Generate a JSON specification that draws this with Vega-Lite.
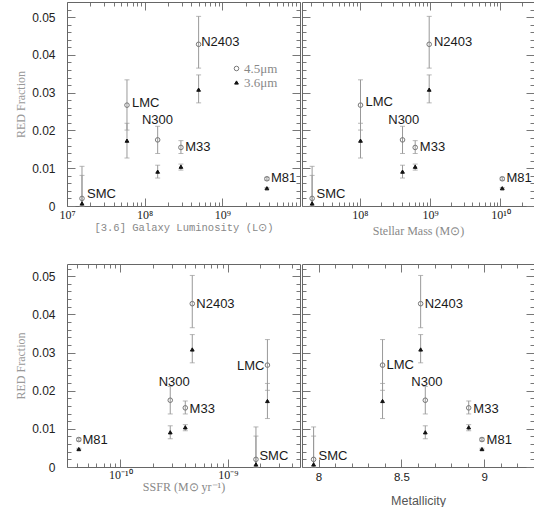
{
  "$schema": "https://vega.github.io/schema/vega-lite/v6.json",
  "padding": {"left": 14, "top": 1, "right": 0, "bottom": 0},
  "background": "white",
  "datasets": {
    "pts": [
      {"galaxy": "SMC", "band": "4.5μm", "lum": 1.56e7, "mass": 2.09e7, "ssfr": 1.83e-9, "met": 7.97, "y": 0.0020, "lo": 0, "hi": 0.0105},
      {"galaxy": "SMC", "band": "3.6μm", "lum": 1.56e7, "mass": 2.09e7, "ssfr": 1.83e-9, "met": 7.97, "y": 0.0007, "lo": 0, "hi": 0.0081},
      {"galaxy": "LMC", "band": "4.5μm", "lum": 5.92e7, "mass": 1.02e8, "ssfr": 2.34e-9, "met": 8.386, "y": 0.0267, "lo": 0.0201, "hi": 0.0334},
      {"galaxy": "LMC", "band": "3.6μm", "lum": 5.92e7, "mass": 1.02e8, "ssfr": 2.34e-9, "met": 8.386, "y": 0.0173, "lo": 0.0127, "hi": 0.0219},
      {"galaxy": "N300", "band": "4.5μm", "lum": 1.47e8, "mass": 4.04e8, "ssfr": 2.92e-10, "met": 8.644, "y": 0.0175, "lo": 0.0139, "hi": 0.0211},
      {"galaxy": "N300", "band": "3.6μm", "lum": 1.47e8, "mass": 4.04e8, "ssfr": 2.92e-10, "met": 8.644, "y": 0.0091, "lo": 0.0074, "hi": 0.0108},
      {"galaxy": "M33", "band": "4.5μm", "lum": 2.93e8, "mass": 6.12e8, "ssfr": 4.03e-10, "met": 8.906, "y": 0.0155, "lo": 0.0139, "hi": 0.0173},
      {"galaxy": "M33", "band": "3.6μm", "lum": 2.93e8, "mass": 6.12e8, "ssfr": 4.03e-10, "met": 8.906, "y": 0.0104, "lo": 0.0095, "hi": 0.0111},
      {"galaxy": "N2403", "band": "4.5μm", "lum": 4.95e8, "mass": 9.68e8, "ssfr": 4.68e-10, "met": 8.616, "y": 0.0428, "lo": 0.0365, "hi": 0.0502},
      {"galaxy": "N2403", "band": "3.6μm", "lum": 4.95e8, "mass": 9.68e8, "ssfr": 4.68e-10, "met": 8.616, "y": 0.0308, "lo": 0.0273, "hi": 0.0347},
      {"galaxy": "M81", "band": "4.5μm", "lum": 3.75e9, "mass": 1.06e10, "ssfr": 4.12e-11, "met": 8.986, "y": 0.0072, "lo": 0.0068, "hi": 0.0076},
      {"galaxy": "M81", "band": "3.6μm", "lum": 3.75e9, "mass": 1.06e10, "ssfr": 4.12e-11, "met": 8.986, "y": 0.0047, "lo": 0.0045, "hi": 0.0049}
    ],
    "labels": [
      {"galaxy": "SMC", "lum_lx": 1.81e7, "lum_ly": 0.0033, "mass_lx": 2.42e7, "mass_ly": 0.0033, "ssfr_lx": 1.97e-9, "ssfr_ly": 0.0029, "met_lx": 8.0, "met_ly": 0.0028},
      {"galaxy": "LMC", "lum_lx": 6.87e7, "lum_ly": 0.0272, "mass_lx": 1.2e8, "mass_ly": 0.0274, "ssfr_lx": 1.22e-9, "ssfr_ly": 0.0265, "met_lx": 8.41, "met_ly": 0.0267},
      {"galaxy": "N300", "lum_lx": 9.23e7, "lum_ly": 0.0228, "mass_lx": 2.53e8, "mass_ly": 0.0228, "ssfr_lx": 2.28e-10, "ssfr_ly": 0.0223, "met_lx": 8.56, "met_ly": 0.0223},
      {"galaxy": "M33", "lum_lx": 3.33e8, "lum_ly": 0.0157, "mass_lx": 7.13e8, "mass_ly": 0.0157, "ssfr_lx": 4.42e-10, "ssfr_ly": 0.0151, "met_lx": 8.934, "met_ly": 0.0152},
      {"galaxy": "N2403", "lum_lx": 5.35e8, "lum_ly": 0.0434, "mass_lx": 1.13e9, "mass_ly": 0.0434, "ssfr_lx": 5.1e-10, "ssfr_ly": 0.0428, "met_lx": 8.64, "met_ly": 0.0428},
      {"galaxy": "M81", "lum_lx": 4.22e9, "lum_ly": 0.0074, "mass_lx": 1.22e10, "mass_ly": 0.0073, "ssfr_lx": 4.46e-11, "ssfr_ly": 0.0071, "met_lx": 9.014, "met_ly": 0.0071}
    ]
  },
  "columns": 2,
  "spacing": {"row": 27, "column": 0},
  "concat": [
    {
      "width": 233, "height": 204,
      "layer": [
        {"data": {"name": "pts"}, "mark": {"type": "rule", "color": "#999", "strokeWidth": 1},
          "encoding": {
            "x": {"field": "lum", "type": "quantitative", "scale": {"type": "log", "domain": [1e7, 1e10], "nice": false},
              "axis": {"orient": "bottom", "values": [2e7,3e7,4e7,5e7,6e7,7e7,8e7,9e7,2e8,3e8,4e8,5e8,6e8,7e8,8e8,9e8,2e9,3e9,4e9,5e9,6e9,7e9,8e9,9e9], "tickSize": -4, "labels": false, "domain": false, "title": null}},
            "y": {"field": "lo", "type": "quantitative", "scale": {"domain": [0, 0.054], "nice": false, "zero": false},
              "axis": {"orient": "left", "values": [0.002,0.004,0.006,0.008,0.012,0.014,0.016,0.018,0.022,0.024,0.026,0.028,0.032,0.034,0.036,0.038,0.042,0.044,0.046,0.048,0.052], "tickSize": -4, "labels": false, "domain": false, "title": null}},
            "y2": {"field": "hi"}}},
        {"data": {"name": "pts"}, "mark": {"type": "tick", "orient": "horizontal", "size": 5, "thickness": 1, "color": "#999"},
          "encoding": {
            "x": {"field": "lum", "type": "quantitative", "scale": {"type": "log", "domain": [1e7, 1e10], "nice": false},
              "axis": {"orient": "top", "values": [2e7,3e7,4e7,5e7,6e7,7e7,8e7,9e7,2e8,3e8,4e8,5e8,6e8,7e8,8e8,9e8,2e9,3e9,4e9,5e9,6e9,7e9,8e9,9e9], "tickSize": -4, "labels": false, "domain": false, "title": null}},
            "y": {"field": "hi", "type": "quantitative", "scale": {"domain": [0, 0.054], "nice": false, "zero": false},
              "axis": {"orient": "right", "values": [0.002,0.004,0.006,0.008,0.012,0.014,0.016,0.018,0.022,0.024,0.026,0.028,0.032,0.034,0.036,0.038,0.042,0.044,0.046,0.048,0.052], "tickSize": -4, "labels": false, "domain": false, "title": null}}}},
        {"data": {"name": "pts"}, "mark": {"type": "tick", "orient": "horizontal", "size": 5, "thickness": 1, "color": "#999"},
          "encoding": {
            "x": {"field": "lum", "type": "quantitative", "scale": {"type": "log", "domain": [1e7, 1e10], "nice": false}, "axis": null},
            "y": {"field": "lo", "type": "quantitative", "scale": {"domain": [0, 0.054], "nice": false, "zero": false}, "axis": null}}},
        {"data": {"name": "pts"}, "mark": {"type": "point", "filled": true, "strokeWidth": 1, "opacity": 1},
          "encoding": {
            "x": {"field": "lum", "type": "quantitative", "scale": {"type": "log", "domain": [1e7, 1e10], "nice": false},
              "axis": {"orient": "bottom", "values": [1e7,1e8,1e9,1e10], "tickSize": -8,
                "labelExpr": "abs(log(datum.value)/LN10-7)<0.001?'10⁷':abs(log(datum.value)/LN10-8)<0.001?'10⁸':abs(log(datum.value)/LN10-9)<0.001?'10⁹':''",
                "labelPadding": 11, "labelFont": "Liberation Serif", "labelFontSize": 12, "labelOverlap": false, "labelFlush": false, "labelBound": false,
                "title": "[3.6] Galaxy Luminosity (L⊙)", "titleFont": "Liberation Mono", "titleFontSize": 10.5, "titleColor": "#888", "titlePadding": 2}},
            "y": {"field": "y", "type": "quantitative", "scale": {"domain": [0, 0.054], "nice": false, "zero": false},
              "axis": {"orient": "left", "values": [0,0.01,0.02,0.03,0.04,0.05], "tickSize": -8,
                "labelExpr": "datum.value==0?'0':format(datum.value,'.2f')",
                "labelPadding": 20, "labelFont": "Liberation Sans", "labelFontSize": 12, "labelOverlap": false, "labelBound": false, "labelFlush": false,
                "title": "RED Fraction", "titleFont": "Liberation Serif", "titleFontSize": 12, "titleColor": "#999", "titlePadding": 4}},
            "shape": {"field": "band", "type": "nominal", "scale": {"domain": ["4.5μm", "3.6μm"], "range": ["circle", "triangle-up"]},
              "legend": {"orient": "none", "legendX": 163, "legendY": 60, "title": null, "labelFont": "Liberation Serif", "labelFontSize": 13, "labelColor": "#888", "symbolSize": 20, "rowPadding": 0, "labelOffset": 1, "symbolStrokeWidth": 1}},
            "fill": {"field": "band", "type": "nominal", "scale": {"domain": ["4.5μm", "3.6μm"], "range": ["transparent", "#111"]}},
            "stroke": {"field": "band", "type": "nominal", "scale": {"domain": ["4.5μm", "3.6μm"], "range": ["#777", "#111"]}},
            "size": {"field": "band", "type": "nominal", "scale": {"domain": ["4.5μm", "3.6μm"], "range": [21, 14]},
              "legend": {"orient": "none", "legendX": 163, "legendY": 60, "title": null, "labelFont": "Liberation Serif", "labelFontSize": 13, "labelColor": "#888", "symbolSize": 20, "rowPadding": 0, "labelOffset": 1, "symbolStrokeWidth": 1}}}},
        {"data": {"name": "labels"}, "mark": {"type": "text", "align": "left", "baseline": "middle", "font": "Liberation Sans", "fontSize": 13, "color": "#1a1a1a"},
          "encoding": {
            "x": {"field": "lum_lx", "type": "quantitative", "scale": {"type": "log", "domain": [1e7, 1e10], "nice": false},
              "axis": {"orient": "top", "values": [1e7,1e8,1e9,1e10], "tickSize": -8, "labels": false, "title": null}},
            "y": {"field": "lum_ly", "type": "quantitative", "scale": {"domain": [0, 0.054], "nice": false, "zero": false},
              "axis": {"orient": "right", "values": [0,0.01,0.02,0.03,0.04,0.05], "tickSize": -8, "labels": false, "title": null}},
            "text": {"field": "galaxy"}}}
      ],
      "resolve": {"axis": {"x": "independent", "y": "independent"}}
    },
    {
      "width": 232, "height": 204,
      "layer": [
        {"data": {"name": "pts"}, "mark": {"type": "rule", "color": "#999", "strokeWidth": 1},
          "encoding": {
            "x": {"field": "mass", "type": "quantitative", "scale": {"type": "log", "domain": [1.5e7, 3e10], "nice": false},
              "axis": {"orient": "bottom", "values": [2e7,3e7,4e7,5e7,6e7,7e7,8e7,9e7,2e8,3e8,4e8,5e8,6e8,7e8,8e8,9e8,2e9,3e9,4e9,5e9,6e9,7e9,8e9,9e9,2e10,3e10], "tickSize": -4, "labels": false, "domain": false, "title": null}},
            "y": {"field": "lo", "type": "quantitative", "scale": {"domain": [0, 0.054], "nice": false, "zero": false},
              "axis": {"orient": "left", "values": [0.002,0.004,0.006,0.008,0.012,0.014,0.016,0.018,0.022,0.024,0.026,0.028,0.032,0.034,0.036,0.038,0.042,0.044,0.046,0.048,0.052], "tickSize": -4, "labels": false, "domain": false, "title": null}},
            "y2": {"field": "hi"}}},
        {"data": {"name": "pts"}, "mark": {"type": "tick", "orient": "horizontal", "size": 5, "thickness": 1, "color": "#999"},
          "encoding": {
            "x": {"field": "mass", "type": "quantitative", "scale": {"type": "log", "domain": [1.5e7, 3e10], "nice": false},
              "axis": {"orient": "top", "values": [2e7,3e7,4e7,5e7,6e7,7e7,8e7,9e7,2e8,3e8,4e8,5e8,6e8,7e8,8e8,9e8,2e9,3e9,4e9,5e9,6e9,7e9,8e9,9e9,2e10,3e10], "tickSize": -4, "labels": false, "domain": false, "title": null}},
            "y": {"field": "hi", "type": "quantitative", "scale": {"domain": [0, 0.054], "nice": false, "zero": false},
              "axis": {"orient": "right", "values": [0.002,0.004,0.006,0.008,0.012,0.014,0.016,0.018,0.022,0.024,0.026,0.028,0.032,0.034,0.036,0.038,0.042,0.044,0.046,0.048,0.052], "tickSize": -4, "labels": false, "domain": false, "title": null}}}},
        {"data": {"name": "pts"}, "mark": {"type": "tick", "orient": "horizontal", "size": 5, "thickness": 1, "color": "#999"},
          "encoding": {
            "x": {"field": "mass", "type": "quantitative", "scale": {"type": "log", "domain": [1.5e7, 3e10], "nice": false}, "axis": null},
            "y": {"field": "lo", "type": "quantitative", "scale": {"domain": [0, 0.054], "nice": false, "zero": false}, "axis": null}}},
        {"data": {"name": "pts"}, "mark": {"type": "point", "filled": true, "strokeWidth": 1, "opacity": 1},
          "encoding": {
            "x": {"field": "mass", "type": "quantitative", "scale": {"type": "log", "domain": [1.5e7, 3e10], "nice": false},
              "axis": {"orient": "bottom", "values": [1e8,1e9,1e10], "tickSize": -8,
                "labelExpr": "abs(log(datum.value)/LN10-8)<0.001?'10⁸':abs(log(datum.value)/LN10-9)<0.001?'10⁹':abs(log(datum.value)/LN10-10)<0.001?'10¹⁰':''",
                "labelPadding": 11, "labelFont": "Liberation Serif", "labelFontSize": 12, "labelOverlap": false, "labelFlush": false, "labelBound": false,
                "title": "Stellar Mass (M⊙)", "titleFont": "Liberation Serif", "titleFontSize": 12, "titleColor": "#888", "titlePadding": 5}},
            "y": {"field": "y", "type": "quantitative", "scale": {"domain": [0, 0.054], "nice": false, "zero": false},
              "axis": {"orient": "left", "values": [0,0.01,0.02,0.03,0.04,0.05], "tickSize": -8, "labels": false, "title": null}},
            "shape": {"field": "band", "type": "nominal", "scale": {"domain": ["4.5μm", "3.6μm"], "range": ["circle", "triangle-up"]}, "legend": null},
            "fill": {"field": "band", "type": "nominal", "scale": {"domain": ["4.5μm", "3.6μm"], "range": ["transparent", "#111"]}, "legend": null},
            "stroke": {"field": "band", "type": "nominal", "scale": {"domain": ["4.5μm", "3.6μm"], "range": ["#777", "#111"]}, "legend": null},
            "size": {"field": "band", "type": "nominal", "scale": {"domain": ["4.5μm", "3.6μm"], "range": [21, 14]}, "legend": null}}},
        {"data": {"name": "labels"}, "mark": {"type": "text", "align": "left", "baseline": "middle", "font": "Liberation Sans", "fontSize": 13, "color": "#1a1a1a"},
          "encoding": {
            "x": {"field": "mass_lx", "type": "quantitative", "scale": {"type": "log", "domain": [1.5e7, 3e10], "nice": false},
              "axis": {"orient": "top", "values": [1e8,1e9,1e10], "tickSize": -8, "labels": false, "title": null}},
            "y": {"field": "mass_ly", "type": "quantitative", "scale": {"domain": [0, 0.054], "nice": false, "zero": false},
              "axis": {"orient": "right", "values": [0,0.01,0.02,0.03,0.04,0.05], "tickSize": -8, "labels": false, "title": null}},
            "text": {"field": "galaxy"}}}
      ],
      "resolve": {"axis": {"x": "independent", "y": "independent"}}
    },
    {
      "width": 233, "height": 203,
      "layer": [
        {"data": {"name": "pts"}, "mark": {"type": "rule", "color": "#999", "strokeWidth": 1},
          "encoding": {
            "x": {"field": "ssfr", "type": "quantitative", "scale": {"type": "log", "domain": [3.2e-11, 4.7e-9], "nice": false},
              "axis": {"orient": "bottom", "values": [4e-11,5e-11,6e-11,7e-11,8e-11,9e-11,2e-10,3e-10,4e-10,5e-10,6e-10,7e-10,8e-10,9e-10,2e-9,3e-9,4e-9], "tickSize": -4, "labels": false, "domain": false, "title": null}},
            "y": {"field": "lo", "type": "quantitative", "scale": {"domain": [0, 0.0532], "nice": false, "zero": false},
              "axis": {"orient": "left", "values": [0.002,0.004,0.006,0.008,0.012,0.014,0.016,0.018,0.022,0.024,0.026,0.028,0.032,0.034,0.036,0.038,0.042,0.044,0.046,0.048,0.052], "tickSize": -4, "labels": false, "domain": false, "title": null}},
            "y2": {"field": "hi"}}},
        {"data": {"name": "pts"}, "mark": {"type": "tick", "orient": "horizontal", "size": 5, "thickness": 1, "color": "#999"},
          "encoding": {
            "x": {"field": "ssfr", "type": "quantitative", "scale": {"type": "log", "domain": [3.2e-11, 4.7e-9], "nice": false},
              "axis": {"orient": "top", "values": [4e-11,5e-11,6e-11,7e-11,8e-11,9e-11,2e-10,3e-10,4e-10,5e-10,6e-10,7e-10,8e-10,9e-10,2e-9,3e-9,4e-9], "tickSize": -4, "labels": false, "domain": false, "title": null}},
            "y": {"field": "hi", "type": "quantitative", "scale": {"domain": [0, 0.0532], "nice": false, "zero": false},
              "axis": {"orient": "right", "values": [0.002,0.004,0.006,0.008,0.012,0.014,0.016,0.018,0.022,0.024,0.026,0.028,0.032,0.034,0.036,0.038,0.042,0.044,0.046,0.048,0.052], "tickSize": -4, "labels": false, "domain": false, "title": null}}}},
        {"data": {"name": "pts"}, "mark": {"type": "tick", "orient": "horizontal", "size": 5, "thickness": 1, "color": "#999"},
          "encoding": {
            "x": {"field": "ssfr", "type": "quantitative", "scale": {"type": "log", "domain": [3.2e-11, 4.7e-9], "nice": false}, "axis": null},
            "y": {"field": "lo", "type": "quantitative", "scale": {"domain": [0, 0.0532], "nice": false, "zero": false}, "axis": null}}},
        {"data": {"name": "pts"}, "mark": {"type": "point", "filled": true, "strokeWidth": 1, "opacity": 1},
          "encoding": {
            "x": {"field": "ssfr", "type": "quantitative", "scale": {"type": "log", "domain": [3.2e-11, 4.7e-9], "nice": false},
              "axis": {"orient": "bottom", "values": [1e-10,1e-9], "tickSize": -8,
                "labelExpr": "abs(log(datum.value)/LN10+10)<0.001?'10⁻¹⁰':abs(log(datum.value)/LN10+9)<0.001?'10⁻⁹':''",
                "labelPadding": 10, "labelFont": "Liberation Serif", "labelFontSize": 12, "labelOverlap": false, "labelFlush": false, "labelBound": false,
                "title": "SSFR (M⊙ yr⁻¹)", "titleFont": "Liberation Serif", "titleFontSize": 12, "titleColor": "#888", "titlePadding": 1}},
            "y": {"field": "y", "type": "quantitative", "scale": {"domain": [0, 0.0532], "nice": false, "zero": false},
              "axis": {"orient": "left", "values": [0,0.01,0.02,0.03,0.04,0.05], "tickSize": -8,
                "labelExpr": "datum.value==0?'0':format(datum.value,'.2f')",
                "labelPadding": 20, "labelFont": "Liberation Sans", "labelFontSize": 12, "labelOverlap": false, "labelBound": false, "labelFlush": false,
                "title": "RED Fraction", "titleFont": "Liberation Serif", "titleFontSize": 12, "titleColor": "#999", "titlePadding": 4}},
            "shape": {"field": "band", "type": "nominal", "scale": {"domain": ["4.5μm", "3.6μm"], "range": ["circle", "triangle-up"]}, "legend": null},
            "fill": {"field": "band", "type": "nominal", "scale": {"domain": ["4.5μm", "3.6μm"], "range": ["transparent", "#111"]}, "legend": null},
            "stroke": {"field": "band", "type": "nominal", "scale": {"domain": ["4.5μm", "3.6μm"], "range": ["#777", "#111"]}, "legend": null},
            "size": {"field": "band", "type": "nominal", "scale": {"domain": ["4.5μm", "3.6μm"], "range": [21, 14]}, "legend": null}}},
        {"data": {"name": "labels"}, "mark": {"type": "text", "align": "left", "baseline": "middle", "font": "Liberation Sans", "fontSize": 13, "color": "#1a1a1a"},
          "encoding": {
            "x": {"field": "ssfr_lx", "type": "quantitative", "scale": {"type": "log", "domain": [3.2e-11, 4.7e-9], "nice": false},
              "axis": {"orient": "top", "values": [1e-10,1e-9], "tickSize": -8, "labels": false, "title": null}},
            "y": {"field": "ssfr_ly", "type": "quantitative", "scale": {"domain": [0, 0.0532], "nice": false, "zero": false},
              "axis": {"orient": "right", "values": [0,0.01,0.02,0.03,0.04,0.05], "tickSize": -8, "labels": false, "title": null}},
            "text": {"field": "galaxy"}}}
      ],
      "resolve": {"axis": {"x": "independent", "y": "independent"}}
    },
    {
      "width": 232, "height": 203,
      "layer": [
        {"data": {"name": "pts"}, "mark": {"type": "rule", "color": "#999", "strokeWidth": 1},
          "encoding": {
            "x": {"field": "met", "type": "quantitative", "scale": {"domain": [7.9, 9.3], "nice": false, "zero": false},
              "axis": {"orient": "bottom", "values": [8.1,8.2,8.3,8.4,8.6,8.7,8.8,8.9,9.1,9.2], "tickSize": -4, "labels": false, "domain": false, "title": null}},
            "y": {"field": "lo", "type": "quantitative", "scale": {"domain": [0, 0.0532], "nice": false, "zero": false},
              "axis": {"orient": "left", "values": [0.002,0.004,0.006,0.008,0.012,0.014,0.016,0.018,0.022,0.024,0.026,0.028,0.032,0.034,0.036,0.038,0.042,0.044,0.046,0.048,0.052], "tickSize": -4, "labels": false, "domain": false, "title": null}},
            "y2": {"field": "hi"}}},
        {"data": {"name": "pts"}, "mark": {"type": "tick", "orient": "horizontal", "size": 5, "thickness": 1, "color": "#999"},
          "encoding": {
            "x": {"field": "met", "type": "quantitative", "scale": {"domain": [7.9, 9.3], "nice": false, "zero": false},
              "axis": {"orient": "top", "values": [8.1,8.2,8.3,8.4,8.6,8.7,8.8,8.9,9.1,9.2], "tickSize": -4, "labels": false, "domain": false, "title": null}},
            "y": {"field": "hi", "type": "quantitative", "scale": {"domain": [0, 0.0532], "nice": false, "zero": false},
              "axis": {"orient": "right", "values": [0.002,0.004,0.006,0.008,0.012,0.014,0.016,0.018,0.022,0.024,0.026,0.028,0.032,0.034,0.036,0.038,0.042,0.044,0.046,0.048,0.052], "tickSize": -4, "labels": false, "domain": false, "title": null}}}},
        {"data": {"name": "pts"}, "mark": {"type": "tick", "orient": "horizontal", "size": 5, "thickness": 1, "color": "#999"},
          "encoding": {
            "x": {"field": "met", "type": "quantitative", "scale": {"domain": [7.9, 9.3], "nice": false, "zero": false}, "axis": null},
            "y": {"field": "lo", "type": "quantitative", "scale": {"domain": [0, 0.0532], "nice": false, "zero": false}, "axis": null}}},
        {"data": {"name": "pts"}, "mark": {"type": "point", "filled": true, "strokeWidth": 1, "opacity": 1},
          "encoding": {
            "x": {"field": "met", "type": "quantitative", "scale": {"domain": [7.9, 9.3], "nice": false, "zero": false},
              "axis": {"orient": "bottom", "values": [8,8.5,9], "tickSize": -8,
                "labelExpr": "abs(datum.value-8)<0.001?'8':abs(datum.value-8.5)<0.001?'8.5':'9'",
                "labelPadding": 12, "labelFont": "Liberation Sans", "labelFontSize": 11.5, "labelOverlap": false, "labelFlush": false, "labelBound": false,
                "title": "Metallicity", "titleFont": "Liberation Sans", "titleFontSize": 12.5, "titleColor": "#555", "titlePadding": 12}},
            "y": {"field": "y", "type": "quantitative", "scale": {"domain": [0, 0.0532], "nice": false, "zero": false},
              "axis": {"orient": "left", "values": [0,0.01,0.02,0.03,0.04,0.05], "tickSize": -8, "labels": false, "title": null}},
            "shape": {"field": "band", "type": "nominal", "scale": {"domain": ["4.5μm", "3.6μm"], "range": ["circle", "triangle-up"]}, "legend": null},
            "fill": {"field": "band", "type": "nominal", "scale": {"domain": ["4.5μm", "3.6μm"], "range": ["transparent", "#111"]}, "legend": null},
            "stroke": {"field": "band", "type": "nominal", "scale": {"domain": ["4.5μm", "3.6μm"], "range": ["#777", "#111"]}, "legend": null},
            "size": {"field": "band", "type": "nominal", "scale": {"domain": ["4.5μm", "3.6μm"], "range": [21, 14]}, "legend": null}}},
        {"data": {"name": "labels"}, "mark": {"type": "text", "align": "left", "baseline": "middle", "font": "Liberation Sans", "fontSize": 13, "color": "#1a1a1a"},
          "encoding": {
            "x": {"field": "met_lx", "type": "quantitative", "scale": {"domain": [7.9, 9.3], "nice": false, "zero": false},
              "axis": {"orient": "top", "values": [8,8.5,9], "tickSize": -8, "labels": false, "title": null}},
            "y": {"field": "met_ly", "type": "quantitative", "scale": {"domain": [0, 0.0532], "nice": false, "zero": false},
              "axis": {"orient": "right", "values": [0,0.01,0.02,0.03,0.04,0.05], "tickSize": -8, "labels": false, "title": null}},
            "text": {"field": "galaxy"}}}
      ],
      "resolve": {"axis": {"x": "independent", "y": "independent"}}
    }
  ],
  "config": {
    "view": {"stroke": null},
    "font": "Liberation Sans",
    "axis": {"domainColor": "#666", "tickColor": "#777", "grid": false, "labelColor": "#222", "titleFontWeight": "normal", "tickWidth": 1, "domainWidth": 1, "minExtent": 0}
  }
}
